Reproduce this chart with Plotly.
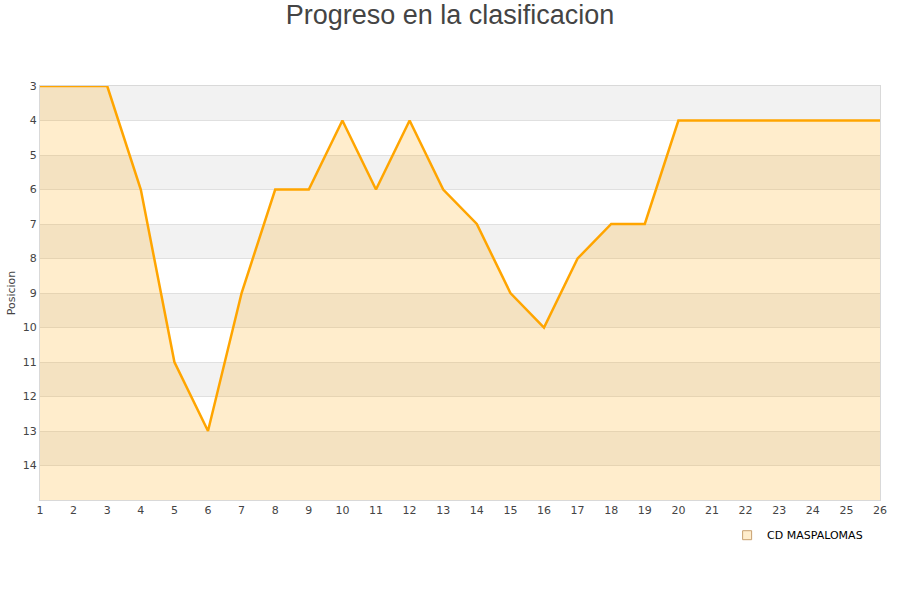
import plotly.graph_objects as go

jornadas = list(range(1, 27))
posiciones = [3, 3, 3, 6, 11, 13, 9, 6, 6, 4, 6, 4, 6, 7, 9, 10, 8, 7, 7, 4, 4, 4, 4, 4, 4, 4]
equipo = "CD MASPALOMAS"
titulo = "Progreso en la clasificacion"
y_min, y_max = 3, 15

fig = go.Figure()

# alternating bands
for i in range(y_min, y_max):
    if (i - y_min) % 2 == 0:
        fig.add_hrect(y0=i, y1=i + 1, fillcolor="#f2f2f2", line_width=0, layer="below")

fig.add_trace(go.Scatter(x=jornadas, y=[y_max] * len(jornadas), mode="lines",
                         line=dict(width=0), showlegend=False, hoverinfo="skip"))
fig.add_trace(go.Scatter(x=jornadas, y=posiciones, mode="lines", fill="tonexty",
                         fillcolor="rgba(255,165,0,0.2)",
                         line=dict(color="#FFA500", width=2.5), showlegend=False, name=equipo))
fig.add_trace(go.Scatter(x=[None], y=[None], mode="markers", name=equipo,
                         marker=dict(symbol="square", size=9, color="#ffedcc",
                                     line=dict(color="#c8a070", width=1))))

fig.update_layout(
    width=900, height=600,
    paper_bgcolor="white", plot_bgcolor="white",
    margin=dict(l=40, r=20, t=86, b=100, autoexpand=False),
    title=dict(text=titulo, x=0.5, xanchor="center", yref="container", y=0.975, yanchor="middle",
               font=dict(family="Liberation Sans, Arial", size=27, color="#444444")),
    font=dict(family="DejaVu Sans, Arial", size=11, color="#444444"),
    showlegend=True,
    legend=dict(x=0.818, y=-0.05, xanchor="left", yanchor="top", orientation="h",
                font=dict(size=11, color="#000000"), bgcolor="rgba(0,0,0,0)"),
)
fig.update_xaxes(range=[1, 26], tickmode="array", tickvals=jornadas, showgrid=False,
                 zeroline=False, showline=True, linecolor="#d9d9d9", mirror=True,
                 ticks="", automargin=False, tickfont=dict(size=11, color="#444444"))
fig.update_yaxes(range=[y_max, y_min], tickmode="array", tickvals=list(range(3, 15)),
                 showgrid=True, gridcolor="#e0e0e0", zeroline=False, showline=True,
                 linecolor="#d9d9d9", mirror=True, ticks="", automargin=False,
                 title=dict(text="Posicion", font=dict(size=11, color="#444444"), standoff=4),
                 tickfont=dict(size=11, color="#444444"))

fig.write_html("out.html", config={"displayModeBar": False},
               post_script="document.body.style.margin='0';")
